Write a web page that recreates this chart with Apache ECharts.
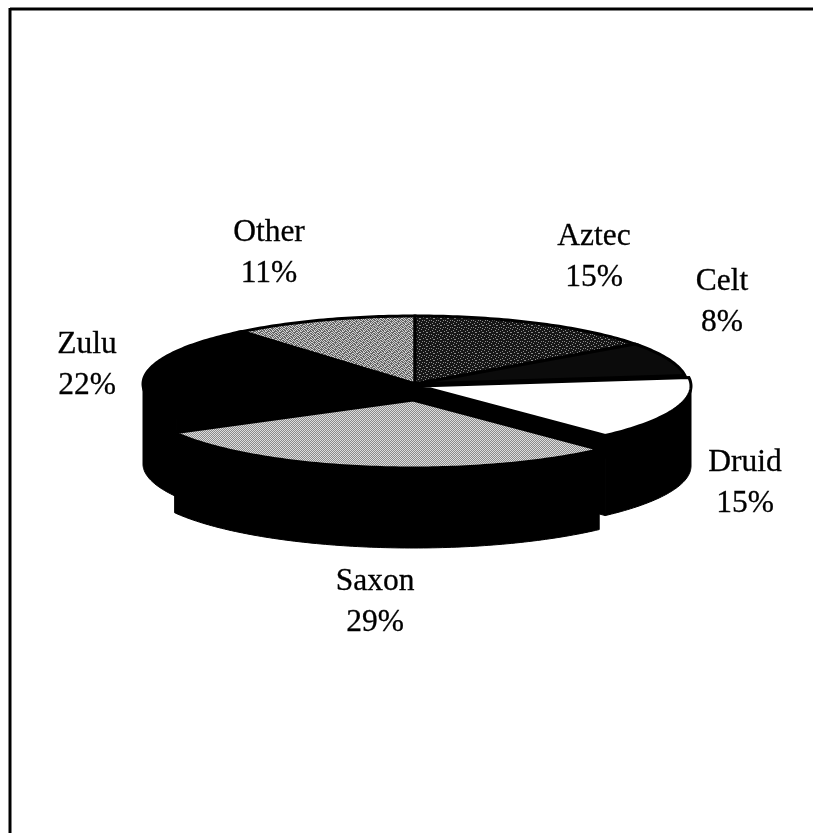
<!DOCTYPE html>
<html>
	<head>
		<meta charset="UTF-8">
		<title>Pie</title>
		<script src="https://cdn.jsdelivr.net/npm/echarts@6/dist/echarts.min.js"></script>
		<style>
			body { margin: 0; background: #fff; }
			#main { width: 813px; height: 833px; }
		</style>
	</head>
	<body>
		<div id="main"></div>
		<script>
			var names = ['Aztec', 'Celt', 'Druid', 'Saxon', 'Zulu', 'Other'];
			var shares = [15, 8, 15, 29, 22, 11];

			// layout of the tilted pie, in pixels
			var cx = 415, cy = 384, rx = 272, ry = 68, depth = 80;
			var shift = { Druid: [4, 2], Saxon: [-2, 16] };
			var drawOrder = ['Other', 'Aztec', 'Celt', 'Zulu', 'Druid', 'Saxon'];
			var labelAt = {
				Aztec: [594, 257], Celt: [722, 302], Druid: [745, 483],
				Saxon: [375, 602], Zulu: [87, 365], Other: [269, 253]
			};

			// two-tone dither tile, same idea as the scanned halftone
			function tile(size, bg, fg, cells) {
				var c = document.createElement('canvas');
				c.width = c.height = size;
				var g = c.getContext('2d');
				g.fillStyle = bg;
				g.fillRect(0, 0, size, size);
				g.fillStyle = fg;
				cells.forEach(function (p) { g.fillRect(p[0], p[1], 1, 1); });
				return { image: c, repeat: 'repeat' };
			}
			var checker = [[0, 0], [1, 1]];
			var mottle = [[0, 0], [2, 0], [5, 0], [1, 1], [3, 1], [6, 1], [0, 2], [4, 2], [6, 2], [2, 3], [3, 3], [5, 3],
				[1, 4], [4, 4], [6, 4], [0, 5], [2, 5], [5, 5], [1, 6], [3, 6], [4, 6]];
			var specks = [[1, 0], [5, 1], [3, 2], [0, 3], [6, 3], [2, 5], [4, 5], [6, 6]];
			var fills = {
				Aztec: tile(7, '#161616', '#8c8c8c', specks),
				Celt: '#0b0b0b',
				Druid: '#ffffff',
				Saxon: tile(2, '#8a8a8a', '#dedede', checker),
				Zulu: '#000000',
				Other: tile(7, '#666666', '#d0d0d0', mottle)
			};

			var total = shares.reduce(function (a, b) { return a + b; }, 0);

			function rim(a, o) {
				var r = a * Math.PI / 180;
				return [cx + o[0] + rx * Math.sin(r), cy + o[1] - ry * Math.cos(r)];
			}
			function arc(from, to, o) {
				var pts = [];
				for (var a = from; a < to; a += 1) pts.push(rim(a, o));
				pts.push(rim(to, o));
				return pts;
			}
			function down(p) { return [p[0], p[1] + depth]; }

			function renderSlice(params, api) {
				var i = params.dataIndex;
				var name = names[i];
				var start = 0;
				for (var k = 0; k < i; k++) start += shares[k];
				var a0 = start / total * 360;
				var a1 = (start + api.value(0)) / total * 360;
				var o = shift[name] || [0, 0];
				var apex = [cx + o[0], cy + o[1]];
				var z = drawOrder.indexOf(name) * 3;
				var kids = [];
				var black = { fill: '#000', stroke: '#000', lineWidth: 1 };

				// cut faces that look towards the viewer
				[a0, a1].forEach(function (a, n) {
					var s = Math.sin(a * Math.PI / 180);
					if ((n === 0 && s < 0) || (n === 1 && s > 0)) {
						var p = rim(a, o);
						kids.push({ type: 'polygon', z2: z, shape: { points: [apex, p, down(p), down(apex)] }, style: black });
					}
				});
				// outer wall, front half of the rim only
				var w0 = Math.max(a0, 90), w1 = Math.min(a1, 270);
				if (w1 > w0) {
					var top = arc(w0, w1, o);
					kids.push({ type: 'polygon', z2: z + 1, shape: { points: top.concat(top.map(down).reverse()) }, style: black });
				}
				// top face
				kids.push({
					type: 'polygon', z2: z + 2,
					shape: { points: [apex].concat(arc(a0, a1, o)) },
					style: { fill: fills[name], stroke: '#000', lineWidth: 3, lineJoin: 'miter' }
				});
				kids.push({
					type: 'text', z2: 40,
					style: {
						x: labelAt[name][0], y: labelAt[name][1],
						text: name + '\n' + api.value(0) + '%',
						fill: '#000', stroke: '#000', lineWidth: 0.3,
						align: 'center', verticalAlign: 'middle',
						font: '31.5px "Liberation Serif"', lineHeight: 41
					}
				});
				return { type: 'group', children: kids };
			}

			var chart = echarts.init(document.getElementById('main'), null, { renderer: 'canvas' });
			chart.setOption({
				animation: false,
				backgroundColor: '#fff',
				graphic: [
					{ type: 'line', shape: { x1: 10, y1: 9, x2: 813, y2: 9 }, style: { stroke: '#000', lineWidth: 3 } },
					{ type: 'line', shape: { x1: 10, y1: 8, x2: 10, y2: 833 }, style: { stroke: '#000', lineWidth: 3 } }
				],
				series: [{
					type: 'custom',
					coordinateSystem: 'none',
					renderItem: renderSlice,
					data: shares.map(function (v, i) { return { name: names[i], value: [v] }; })
				}]
			});
		</script>
	</body>
</html>
